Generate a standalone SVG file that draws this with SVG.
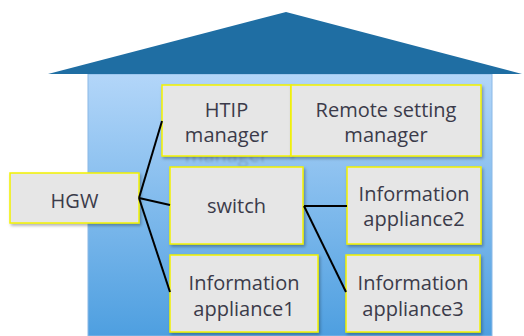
<svg xmlns="http://www.w3.org/2000/svg" width="524" height="336" viewBox="0 0 524 336">
<defs>
<linearGradient id="wall" x1="0" y1="0" x2="0" y2="1">
<stop offset="0" stop-color="#b3d6f9"/>
<stop offset="1" stop-color="#4e9fe0"/>
</linearGradient>
<filter id="sh" x="-10%" y="-10%" width="130%" height="130%">
<feDropShadow dx="1.5" dy="2" stdDeviation="1.5" flood-color="#000" flood-opacity="0.3"/>
</filter>
<filter id="blur"><feGaussianBlur stdDeviation="0.8"/></filter>
</defs>
<style>
.box{fill:#e6e6e6;stroke:#f2f200;stroke-width:1.5;filter:url(#sh)}
.t{font-family:"Open Sans","Noto Sans",sans-serif;font-size:20px;fill:#3b3b4a;text-anchor:middle}
.c{stroke:#000;stroke-width:2;fill:none}
</style>
<g id="house">
<rect x="88" y="74" width="404" height="262" fill="url(#wall)" stroke="#8ab8e6" stroke-width="1"/>
<polygon points="286,12 48,74 522,74" fill="#1f6ea3"/>
</g>
<text class="t" x="226.5" y="162" style="fill:#5a6e88;opacity:0.35" filter="url(#blur)">manager</text>
<g id="htip">
<rect class="box" x="162" y="85" width="129" height="71"/>
<text class="t" x="226.5" y="117">HTIP</text>
<text class="t" x="226.5" y="142">manager</text>
</g>
<g id="remote">
<rect class="box" x="291" y="85" width="190" height="71"/>
<text class="t" x="386" y="117">Remote setting</text>
<text class="t" x="386" y="142">manager</text>
</g>
<g id="hgw">
<rect class="box" x="10" y="173" width="129" height="50"/>
<text class="t" x="74.5" y="208">HGW</text>
</g>
<g id="switch">
<rect class="box" x="170" y="167" width="133" height="77"/>
<text class="t" x="236.5" y="213">switch</text>
</g>
<g id="app2">
<rect class="box" x="347" y="167" width="134" height="77"/>
<text class="t" x="414" y="201">Information</text>
<text class="t" x="414" y="226">appliance2</text>
</g>
<g id="app1">
<rect class="box" x="170" y="255" width="148" height="77"/>
<text class="t" x="244" y="290">Information</text>
<text class="t" x="244" y="316">appliance1</text>
</g>
<g id="app3">
<rect class="box" x="346" y="255" width="134" height="77"/>
<text class="t" x="413" y="290">Information</text>
<text class="t" x="413" y="316">appliance3</text>
</g>
<g id="connectors">
<line class="c" x1="139" y1="198" x2="162" y2="121"/>
<line class="c" x1="139" y1="198" x2="170" y2="205"/>
<line class="c" x1="139" y1="198" x2="170" y2="292"/>
<line class="c" x1="304" y1="206" x2="347" y2="206"/>
<line class="c" x1="304" y1="206" x2="346" y2="292"/>
</g>
</svg>
